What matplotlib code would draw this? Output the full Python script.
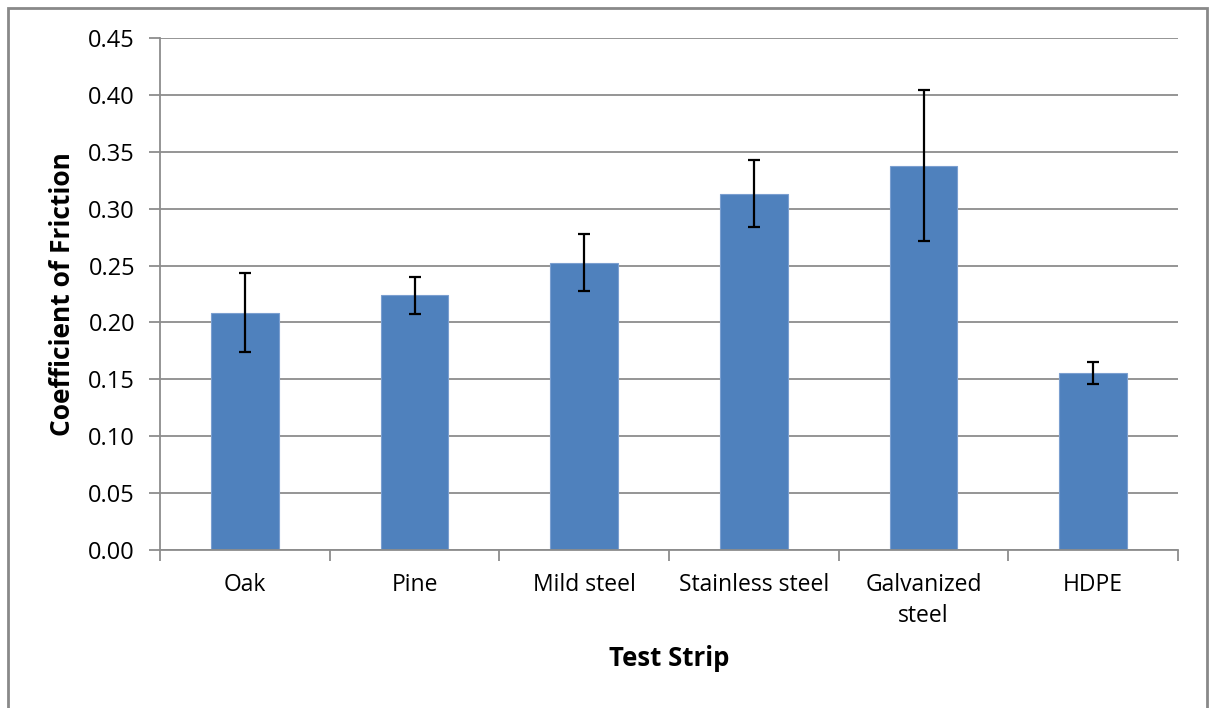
import matplotlib.pyplot as plt
import matplotlib.patches as patches
import numpy as np

strips = ['Oak', 'Pine', 'Mild steel', 'Stainless steel', 'Galvanized\nsteel', 'HDPE']
friction = [0.2085, 0.2237, 0.2524, 0.3131, 0.3378, 0.1557]
errors = [0.0347, 0.0161, 0.0252, 0.0293, 0.0665, 0.0095]

plt.rcParams['font.family'] = ['Open Sans', 'DejaVu Sans']

fig = plt.figure(figsize=(12.09, 7.08), dpi=100)
ax = fig.add_axes([160 / 1209, 1 - 550 / 708, (1178 - 160) / 1209, (550 - 38) / 708])

# outer chart border
fig.patches.append(patches.Rectangle((8 / 1209, -0.05), (1207 - 8) / 1209, 1 - 8 / 708 + 0.05,
                                     transform=fig.transFigure, fill=False,
                                     edgecolor='#898989', linewidth=2))

x = np.arange(len(strips))
ax.bar(x, friction, width=0.4, color='#4F81BD', edgecolor='#7B9FD0', linewidth=0.8, zorder=2)
ax.errorbar(x, friction, yerr=errors, fmt='none', ecolor='black', elinewidth=1.6,
            capsize=4.5, capthick=1.6, zorder=3)

ax.set_xlim(-0.5, len(strips) - 0.5)
ax.set_ylim(0, 0.45)
ax.set_yticks(np.arange(0, 0.451, 0.05))
ax.set_yticklabels([f'{v:.2f}' for v in np.arange(0, 0.451, 0.05)])
ax.yaxis.grid(True, color='#8C8C8C', linewidth=1.3, zorder=0)
ax.set_axisbelow(True)

# category labels centred, ticks at the boundaries
ax.set_xticks(x)
ax.set_xticklabels(strips, linespacing=1.42)
ax.tick_params(axis='x', length=0, pad=16.5, labelsize=16.5)
ax.set_xticks(np.arange(-0.5, len(strips)), minor=True)
ax.tick_params(axis='x', which='minor', length=8, color='#8C8C8C', width=1.3)
ax.tick_params(axis='y', length=8, color='#8C8C8C', width=1.3, labelsize=17, pad=10)

for side in ['top', 'right']:
    ax.spines[side].set_visible(False)
for side in ['left', 'bottom']:
    ax.spines[side].set_color('#8C8C8C')
    ax.spines[side].set_linewidth(1.3)

ax.set_ylabel('Coefficient of Friction', fontsize=19, fontweight='bold', labelpad=8.5)
ax.set_xlabel('Test Strip', fontsize=18.5, fontweight='bold', labelpad=12)

plt.savefig('out.png', dpi=100)
